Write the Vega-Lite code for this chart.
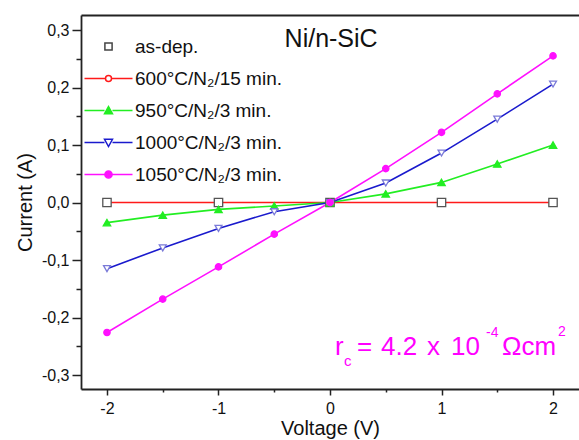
{
  "$schema": "https://vega.github.io/schema/vega-lite/v6.json",
  "width": 498,
  "height": 374,
  "autosize": {"type": "none"},
  "padding": {"left": 81, "top": 15, "right": 0, "bottom": 51},
  "background": "white",
  "config": {
    "view": {"stroke": null},
    "font": "Liberation Sans",
    "axis": {"grid": false, "domainColor": "#222", "tickColor": "#222", "labelColor": "#111", "titleColor": "#111", "labelFont": "Liberation Sans", "titleFont": "Liberation Sans", "titleFontWeight": "normal"}
  },
  "data": {
    "values": [
      {"s": "as-dep.", "v": -2, "i": 0}, {"s": "as-dep.", "v": -1, "i": 0}, {"s": "as-dep.", "v": 0, "i": 0}, {"s": "as-dep.", "v": 1, "i": 0}, {"s": "as-dep.", "v": 2, "i": 0},
      {"s": "600°C/N₂/15 min.", "v": -2, "i": 0}, {"s": "600°C/N₂/15 min.", "v": -1, "i": 0}, {"s": "600°C/N₂/15 min.", "v": 0, "i": 0}, {"s": "600°C/N₂/15 min.", "v": 1, "i": 0}, {"s": "600°C/N₂/15 min.", "v": 2, "i": 0},
      {"s": "950°C/N₂/3 min.", "v": -2, "i": -0.035}, {"s": "950°C/N₂/3 min.", "v": -1.5, "i": -0.022}, {"s": "950°C/N₂/3 min.", "v": -1, "i": -0.012}, {"s": "950°C/N₂/3 min.", "v": -0.5, "i": -0.006}, {"s": "950°C/N₂/3 min.", "v": 0, "i": 0}, {"s": "950°C/N₂/3 min.", "v": 0.5, "i": 0.015}, {"s": "950°C/N₂/3 min.", "v": 1, "i": 0.035}, {"s": "950°C/N₂/3 min.", "v": 1.5, "i": 0.067}, {"s": "950°C/N₂/3 min.", "v": 2, "i": 0.1},
      {"s": "1000°C/N₂/3 min.", "v": -2, "i": -0.115}, {"s": "1000°C/N₂/3 min.", "v": -1.5, "i": -0.079}, {"s": "1000°C/N₂/3 min.", "v": -1, "i": -0.045}, {"s": "1000°C/N₂/3 min.", "v": -0.5, "i": -0.016}, {"s": "1000°C/N₂/3 min.", "v": 0, "i": 0}, {"s": "1000°C/N₂/3 min.", "v": 0.5, "i": 0.034}, {"s": "1000°C/N₂/3 min.", "v": 1, "i": 0.086}, {"s": "1000°C/N₂/3 min.", "v": 1.5, "i": 0.145}, {"s": "1000°C/N₂/3 min.", "v": 2, "i": 0.206},
      {"s": "1050°C/N₂/3 min.", "v": -2, "i": -0.226}, {"s": "1050°C/N₂/3 min.", "v": -1.5, "i": -0.168}, {"s": "1050°C/N₂/3 min.", "v": -1, "i": -0.112}, {"s": "1050°C/N₂/3 min.", "v": -0.5, "i": -0.055}, {"s": "1050°C/N₂/3 min.", "v": 0, "i": 0}, {"s": "1050°C/N₂/3 min.", "v": 0.5, "i": 0.059}, {"s": "1050°C/N₂/3 min.", "v": 1, "i": 0.122}, {"s": "1050°C/N₂/3 min.", "v": 1.5, "i": 0.189}, {"s": "1050°C/N₂/3 min.", "v": 2, "i": 0.255}
    ]
  },
  "layer": [
    {
      "transform": [{"filter": "datum.s !== 'as-dep.'"}],
      "mark": {"type": "line", "strokeWidth": 1.6},
      "encoding": {
        "x": {"field": "v", "type": "quantitative", "scale": {"domain": [-2.233, 2.233], "nice": false, "zero": false},
          "axis": {"orient": "bottom", "values": [-2, -1, 0, 1, 2], "tickSize": 6, "tickWidth": 1.5, "domainWidth": 1.8, "labelFontSize": 16, "labelPadding": 5, "labelExpr": "(datum.value < 0 ? '-' : '') + format(abs(datum.value), 'd')", "title": "Voltage (V)", "titleFontSize": 20, "titlePadding": 2}},
        "y": {"field": "i", "type": "quantitative", "scale": {"domain": [-0.3243, 0.3261], "nice": false, "zero": false},
          "axis": {"orient": "left", "values": [-0.3, -0.2, -0.1, 0, 0.1, 0.2, 0.3], "tickSize": 9, "tickWidth": 1.5, "domainWidth": 1.8, "labelFontSize": 16, "labelPadding": 3, "labelExpr": "(datum.value < 0 ? '-' : '') + replace(format(abs(datum.value), '.1f'), '.', ',')", "title": "Current (A)", "titleFontSize": 20, "titlePadding": 6}},
        "stroke": {"field": "s", "type": "nominal", "legend": null,
          "scale": {"domain": ["as-dep.", "600°C/N₂/15 min.", "950°C/N₂/3 min.", "1000°C/N₂/3 min.", "1050°C/N₂/3 min."], "range": ["#444444", "#ff1a1a", "#22ee22", "#1a1acd", "#ff10ff"]}}
      }
    },
    {
      "transform": [{"filter": "indexof(datum.s, '600') < 0"}],
      "mark": {"type": "point", "filled": true, "strokeWidth": 1.3, "opacity": 1},
      "encoding": {
        "x": {"field": "v", "type": "quantitative",
          "axis": {"orient": "bottom", "values": [-1.5, -0.5, 0.5, 1.5], "tickSize": 3, "tickWidth": 1.5, "labels": false, "domain": false, "title": null}},
        "y": {"field": "i", "type": "quantitative",
          "axis": {"orient": "left", "values": [-0.25, -0.15, -0.05, 0.05, 0.15, 0.25], "tickSize": 5, "tickWidth": 1.5, "labels": false, "domain": false, "title": null}},
        "shape": {"field": "s", "type": "nominal", "legend": null,
          "scale": {"domain": ["as-dep.", "600°C/N₂/15 min.", "950°C/N₂/3 min.", "1000°C/N₂/3 min.", "1050°C/N₂/3 min."], "range": ["square", "circle", "triangle-up", "triangle-down", "circle"]}},
        "fill": {"field": "s", "type": "nominal", "legend": null,
          "scale": {"domain": ["as-dep.", "600°C/N₂/15 min.", "950°C/N₂/3 min.", "1000°C/N₂/3 min.", "1050°C/N₂/3 min."], "range": ["#ffffff", "#ffffff", "#22ee22", "#ffffff", "#ff10ff"]}},
        "stroke": {"field": "s", "type": "nominal", "legend": null,
          "scale": {"domain": ["as-dep.", "600°C/N₂/15 min.", "950°C/N₂/3 min.", "1000°C/N₂/3 min.", "1050°C/N₂/3 min."], "range": ["#555555", "#ff8080", "#22ee22", "#7a7ad8", "#ff10ff"]}},
        "size": {"field": "s", "type": "nominal", "legend": null,
          "scale": {"domain": ["as-dep.", "600°C/N₂/15 min.", "950°C/N₂/3 min.", "1000°C/N₂/3 min.", "1050°C/N₂/3 min."], "range": [70, 40, 80, 85, 80]}}
      }
    },
    {
      "transform": [{"filter": "false"}],
      "mark": {"type": "point", "filled": true, "strokeWidth": 1.5, "opacity": 1, "size": 64},
      "encoding": {
        "x": {"field": "v", "type": "quantitative",
          "axis": {"orient": "top", "ticks": false, "labels": false, "domainWidth": 1.8, "title": null}},
        "y": {"field": "i", "type": "quantitative", "axis": null},
        "shape": {"field": "s", "type": "nominal",
          "legend": {"orient": "none", "legendX": 18, "legendY": 22, "title": null, "labelFontSize": 19, "labelFont": "Liberation Sans", "labelColor": "#111", "rowPadding": 12, "labelOffset": 17, "symbolStrokeWidth": 1.5, "padding": 0, "symbolSize": 64, "symbolOpacity": 1, "labelLimit": 300},
          "scale": {"domain": ["as-dep.", "600°C/N₂/15 min.", "950°C/N₂/3 min.", "1000°C/N₂/3 min.", "1050°C/N₂/3 min."],
            "range": ["M-0.9,-0.9H0.9V0.9H-0.9Z", "M-6,0H-0.8M0.8,0H6M-0.75,0A0.75,0.75 0 1,0 0.75,0A0.75,0.75 0 1,0 -0.75,0Z", "M-6,0H-1M1,0H6M0,-1L1,0.8H-1Z", "M-6,0H-1M1,0H6M-1,-0.8H1L0,1Z", "M-6,0H-0.9M0.9,0H6M-0.9,0A0.9,0.9 0 1,0 0.9,0A0.9,0.9 0 1,0 -0.9,0Z"]}},
        "stroke": {"field": "s", "type": "nominal",
          "legend": {"orient": "none", "legendX": 18, "legendY": 22, "title": null, "labelFontSize": 19, "labelFont": "Liberation Sans", "labelColor": "#111", "rowPadding": 12, "labelOffset": 17, "symbolStrokeWidth": 1.5, "padding": 0, "symbolSize": 64, "symbolOpacity": 1, "labelLimit": 300},
          "scale": {"domain": ["as-dep.", "600°C/N₂/15 min.", "950°C/N₂/3 min.", "1000°C/N₂/3 min.", "1050°C/N₂/3 min."], "range": ["#444444", "#ff1a1a", "#22ee22", "#1a1acd", "#ff10ff"]}},
        "fill": {"field": "s", "type": "nominal",
          "legend": {"orient": "none", "legendX": 18, "legendY": 22, "title": null, "labelFontSize": 19, "labelFont": "Liberation Sans", "labelColor": "#111", "rowPadding": 12, "labelOffset": 17, "symbolStrokeWidth": 1.5, "padding": 0, "symbolSize": 64, "symbolOpacity": 1, "labelLimit": 300},
          "scale": {"domain": ["as-dep.", "600°C/N₂/15 min.", "950°C/N₂/3 min.", "1000°C/N₂/3 min.", "1050°C/N₂/3 min."], "range": ["#ffffff", "#ffffff", "#22ee22", "#ffffff", "#ff10ff"]}}
      }
    },
    {
      "data": {"values": [{}]},
      "mark": {"type": "text", "text": "Ni/n-SiC", "fontSize": 25, "font": "Liberation Sans", "align": "center", "baseline": "middle", "color": "#111"},
      "encoding": {"x": {"datum": 0.01, "type": "quantitative", "axis": null}, "y": {"datum": 0.284, "type": "quantitative", "axis": null}}
    },
    {
      "data": {"values": [{}]},
      "mark": {"type": "text", "text": "r", "fontSize": 26, "font": "Liberation Sans", "align": "left", "baseline": "alphabetic", "color": "#ff00ff", "dx": 0},
      "encoding": {"x": {"datum": 0.045, "type": "quantitative", "axis": null}, "y": {"datum": -0.266, "type": "quantitative", "axis": null}}
    },
    {
      "data": {"values": [{}]},
      "mark": {"type": "text", "text": "c", "fontSize": 15, "font": "Liberation Sans", "align": "left", "baseline": "alphabetic", "color": "#ff00ff", "dx": 9, "dy": 11},
      "encoding": {"x": {"datum": 0.045, "type": "quantitative", "axis": null}, "y": {"datum": -0.266, "type": "quantitative", "axis": null}}
    },
    {
      "data": {"values": [{}]},
      "mark": {"type": "text", "text": "=", "fontSize": 26, "font": "Liberation Sans", "align": "left", "baseline": "alphabetic", "color": "#ff00ff", "dx": 22},
      "encoding": {"x": {"datum": 0.045, "type": "quantitative", "axis": null}, "y": {"datum": -0.266, "type": "quantitative", "axis": null}}
    },
    {
      "data": {"values": [{}]},
      "mark": {"type": "text", "text": "4.2", "fontSize": 26, "font": "Liberation Sans", "align": "left", "baseline": "alphabetic", "color": "#ff00ff", "dx": 46},
      "encoding": {"x": {"datum": 0.045, "type": "quantitative", "axis": null}, "y": {"datum": -0.266, "type": "quantitative", "axis": null}}
    },
    {
      "data": {"values": [{}]},
      "mark": {"type": "text", "text": "x", "fontSize": 26, "font": "Liberation Sans", "align": "left", "baseline": "alphabetic", "color": "#ff00ff", "dx": 92},
      "encoding": {"x": {"datum": 0.045, "type": "quantitative", "axis": null}, "y": {"datum": -0.266, "type": "quantitative", "axis": null}}
    },
    {
      "data": {"values": [{}]},
      "mark": {"type": "text", "text": "10", "fontSize": 26, "font": "Liberation Sans", "align": "left", "baseline": "alphabetic", "color": "#ff00ff", "dx": 116},
      "encoding": {"x": {"datum": 0.045, "type": "quantitative", "axis": null}, "y": {"datum": -0.266, "type": "quantitative", "axis": null}}
    },
    {
      "data": {"values": [{}]},
      "mark": {"type": "text", "text": "-4", "fontSize": 14, "font": "Liberation Sans", "align": "left", "baseline": "alphabetic", "color": "#ff00ff", "dx": 151, "dy": -18},
      "encoding": {"x": {"datum": 0.045, "type": "quantitative", "axis": null}, "y": {"datum": -0.266, "type": "quantitative", "axis": null}}
    },
    {
      "data": {"values": [{}]},
      "mark": {"type": "text", "text": "Ωcm", "fontSize": 26, "font": "Liberation Sans", "align": "left", "baseline": "alphabetic", "color": "#ff00ff", "dx": 167},
      "encoding": {"x": {"datum": 0.045, "type": "quantitative", "axis": null}, "y": {"datum": -0.266, "type": "quantitative", "axis": null}}
    },
    {
      "data": {"values": [{}]},
      "mark": {"type": "text", "text": "2", "fontSize": 14, "font": "Liberation Sans", "align": "left", "baseline": "alphabetic", "color": "#ff00ff", "dx": 223, "dy": -19},
      "encoding": {"x": {"datum": 0.045, "type": "quantitative", "axis": null}, "y": {"datum": -0.266, "type": "quantitative", "axis": null}}
    }
  ],
  "resolve": {
    "scale": {"shape": "independent", "stroke": "independent", "fill": "independent", "size": "independent"},
    "axis": {"x": "independent", "y": "independent"}
  }
}
